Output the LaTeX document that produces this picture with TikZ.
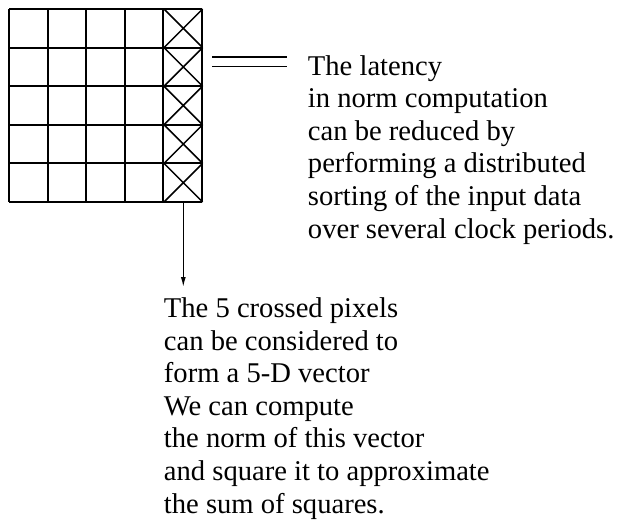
\documentclass[tikz,border=0pt]{standalone}
\usepackage{fontspec}
\setmainfont{Liberation Serif}
\usetikzlibrary{shapes.misc,arrows.meta}
\tikzset{
  pixel/.style={cross out,draw,line width=1.5pt,minimum size=38.6pt,inner sep=0pt,outer sep=0pt},
  note/.style={align=left,inner sep=0pt,anchor=base west,font=\fontsize{28.6pt}{32.6pt}\selectfont},
}
\begin{document}
\begin{tikzpicture}[x=1pt,y=-1pt,line width=1.9pt]
\useasboundingbox (0,0) rectangle (624,522);
% 5x5 block of pixels
\foreach \i in {0,...,5} {
  \draw (9+38.6*\i,9) -- (9+38.6*\i,202);
  \draw (9,9+38.6*\i) -- (202,9+38.6*\i);
}
% last column: the crossed pixels
\foreach \r in {1,...,5}
  \node[pixel] (x\r) at (183.3,9+38.6*\r-19.3) {};
\coordinate (dl) at (212,61.8);
\coordinate (dr) at (287,61.8);
\coordinate (tip) at (183.3,287);
\draw[double,line width=1.3pt,double distance=8.2pt] (dl) -- (dr);
\draw[-{Latex[length=10pt,width=5pt]},line width=1.3pt] (x5.south) -- (tip);
% base anchor sits on the last line
\node[note] (latency) at (307,238) {The latency\\in norm computation\\can be reduced by\\performing a distributed\\sorting of the input data\\over several clock periods.};
\node[note] (vector) at (163,513) {The 5 crossed pixels\\can be considered to\\form a 5-D vector\\We can compute\\the norm of this vector\\and square it to approximate\\the sum of squares.};
\end{tikzpicture}
\end{document}
